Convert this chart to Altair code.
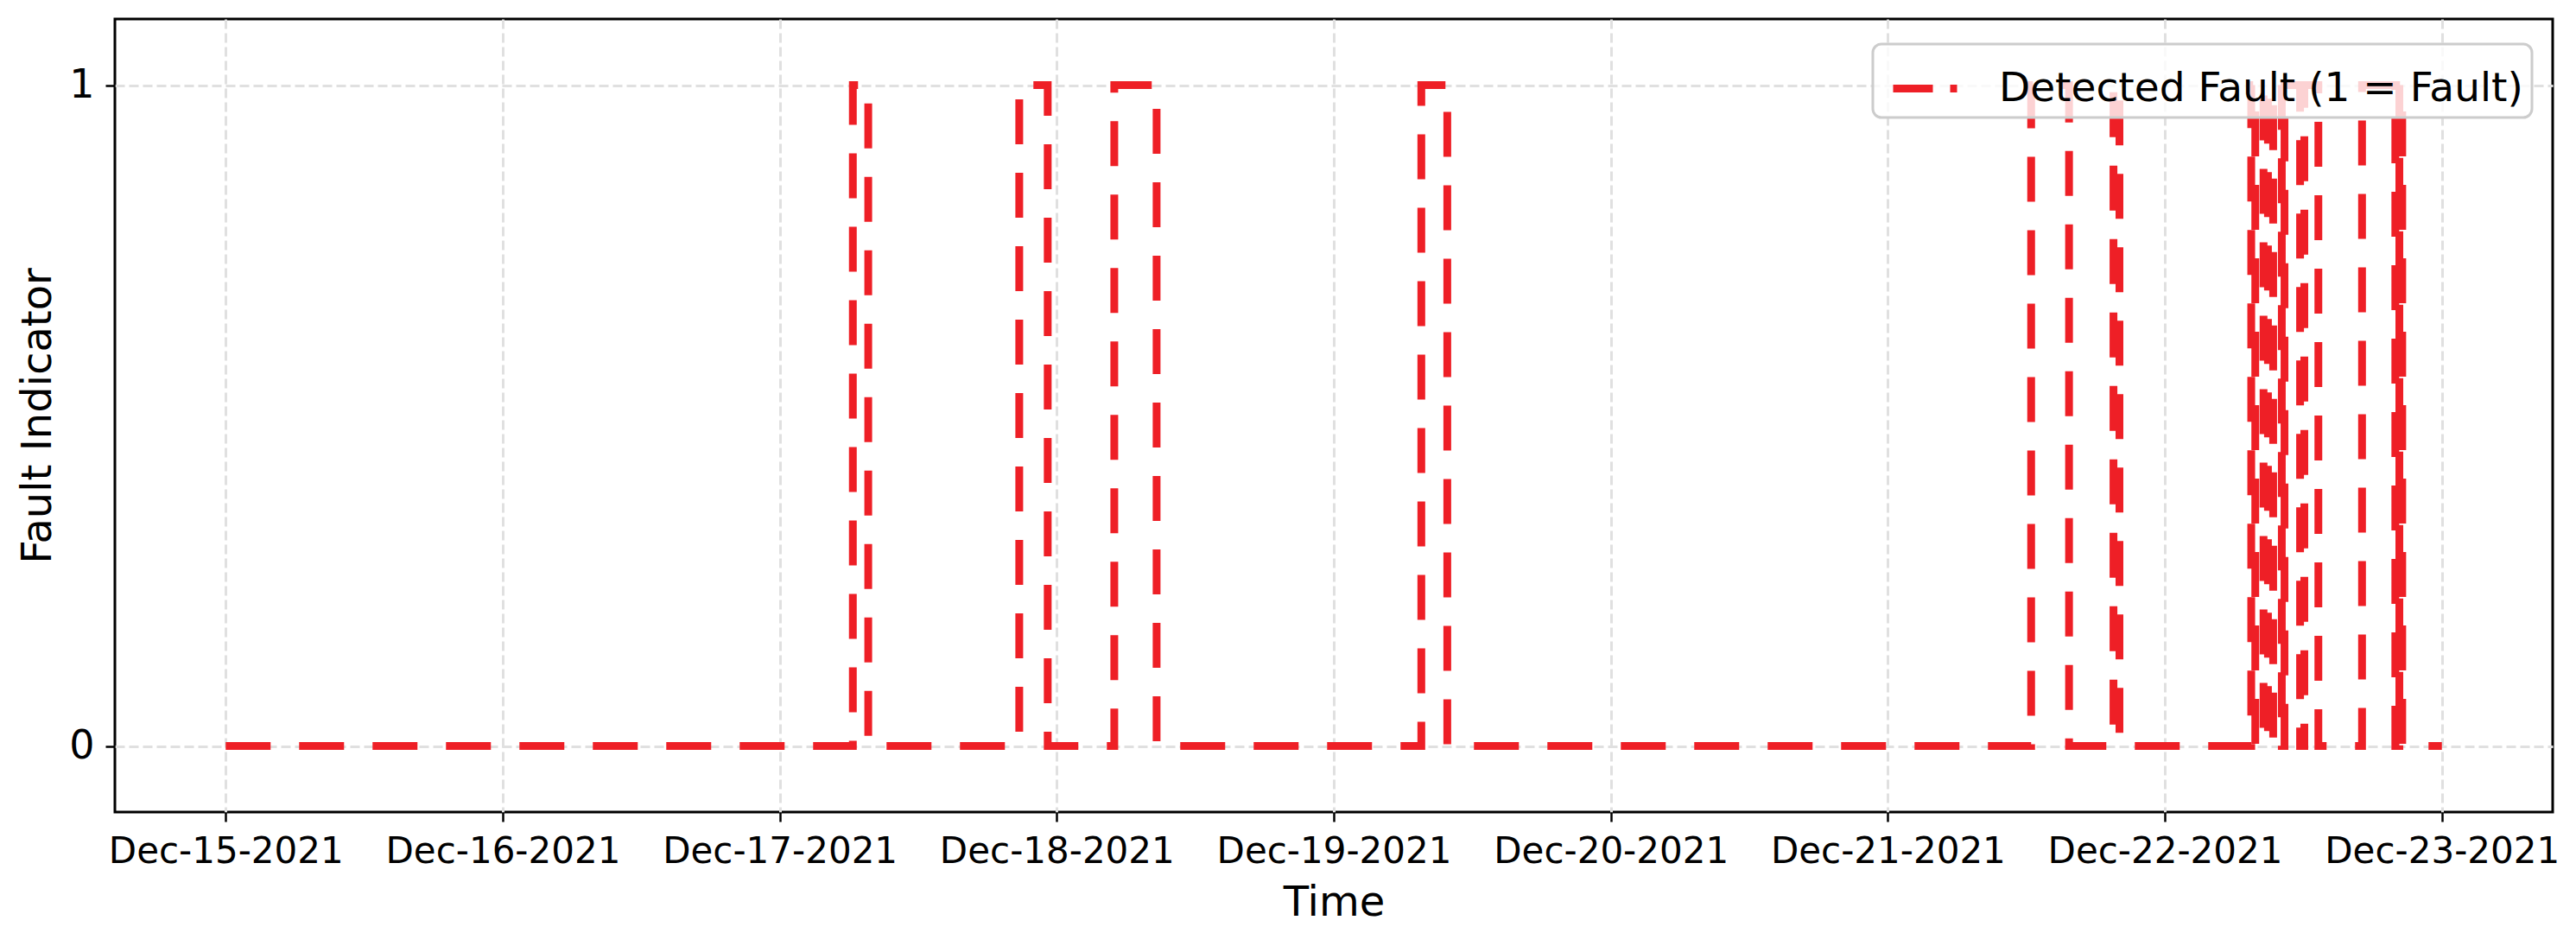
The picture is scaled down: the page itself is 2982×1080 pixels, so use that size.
import altair as alt
import pandas as pd

# Transition times (UTC) and the fault level that holds from each time onward
change_times = [
    "2021-12-15T00:00:00Z",
    "2021-12-17T06:20:00Z", "2021-12-17T07:40:00Z",
    "2021-12-17T20:45:00Z", "2021-12-17T23:13:00Z",
    "2021-12-18T04:59:00Z", "2021-12-18T08:39:00Z",
    "2021-12-19T07:35:00Z", "2021-12-19T09:50:00Z",
    "2021-12-21T12:25:00Z", "2021-12-21T15:42:00Z",
    "2021-12-21T19:33:00Z", "2021-12-21T20:04:00Z",
    "2021-12-22T07:29:00Z", "2021-12-22T07:50:00Z",
    "2021-12-22T08:33:00Z", "2021-12-22T08:56:00Z",
    "2021-12-22T09:23:00Z", "2021-12-22T10:08:00Z",
    "2021-12-22T10:22:00Z", "2021-12-22T11:43:00Z",
    "2021-12-22T12:05:00Z", "2021-12-22T13:18:00Z",
    "2021-12-22T17:05:00Z", "2021-12-22T19:58:00Z",
    "2021-12-22T20:19:00Z", "2021-12-22T20:34:00Z",
    "2021-12-23T00:00:00Z",
]
fault_levels = [
    0,
    1, 0,
    1, 0,
    1, 0,
    1, 0,
    1, 0,
    1, 0,
    1, 0,
    1, 0,
    1, 0,
    1, 0,
    1, 0,
    1, 0,
    1, 0,
    0,
]
series_name = "Detected Fault (1 = Fault)"
tick_days = [15, 16, 17, 18, 19, 20, 21, 22, 23]
y_ticks = [0, 1]

df = pd.DataFrame({"time": change_times, "fault": fault_levels, "series": series_name})

RED = "#EE1F26"
FONT = "DejaVu Sans"

x_values = [alt.DateTime(year=2021, month=12, date=d, utc=True) for d in tick_days]

chart = alt.Chart(df).mark_line(
    interpolate="step-after",
    strokeWidth=9,
    strokeDash=[52, 33],
    strokeJoin="miter",
).encode(
    x=alt.X(
        "time:T",
        scale=alt.Scale(
            type="utc",
            domain=[
                alt.DateTime(year=2021, month=12, date=14, hours=14, minutes=24, utc=True),
                alt.DateTime(year=2021, month=12, date=23, hours=9, minutes=36, utc=True),
            ],
            nice=False,
        ),
        axis=alt.Axis(
            title="Time",
            values=x_values,
            format="%b-%d-%Y",
            labelFontSize=42,
            labelPadding=14,
            labelLimit=1000,
            titleFontSize=48,
            titleY=119,
            titleBaseline="alphabetic",
            labelFlush=False,
            labelOverlap=False,
        ),
    ),
    y=alt.Y(
        "fault:Q",
        scale=alt.Scale(domain=[-0.1, 1.1], nice=False, zero=False),
        axis=alt.Axis(
            title="Fault Indicator",
            values=y_ticks,
            format="d",
            labelFontSize=46,
            labelPadding=13,
            titleFontSize=48,
            titleX=-75,
            titleY=459,
            titleAngle=270,
            titleAlign="center",
            titleBaseline="alphabetic",
        ),
    ),
    color=alt.Color(
        "series:N",
        scale=alt.Scale(range=[RED]),
        legend=alt.Legend(
            title=None,
            orient="none",
            legendX=2035,
            legendY=29,
            labelFont=FONT,
            labelFontSize=47,
            labelColor="black",
            labelLimit=2000,
            labelOffset=44,
            symbolType="stroke",
            symbolSize=5476,
            symbolStrokeWidth=9,
            symbolDash=[46, 20, 8, 200],
            symbolOffset=9,
            padding=10,
            cornerRadius=10,
            fillColor="rgba(255,255,255,0.8)",
            strokeColor="#cccccc",
        ),
    ),
).properties(
    width=2822,
    height=918,
    autosize=alt.AutoSizeParams(type="none"),
    padding={"left": 125, "top": 14, "right": 10, "bottom": 130},
).configure_axis(
    labelFont=FONT,
    titleFont=FONT,
    labelColor="black",
    titleColor="black",
    titleFontWeight="normal",
    domain=False,
    grid=True,
    gridColor="#e0e0e0",
    gridDash=[11, 5],
    gridWidth=3,
    tickColor="black",
    tickWidth=2.5,
    tickSize=11,
).configure_view(
    stroke="black",
    strokeWidth=3,
).configure_legend(
    strokeWidth=3,
)

chart.save("out.html", embed_options={"renderer": "svg", "actions": False})
